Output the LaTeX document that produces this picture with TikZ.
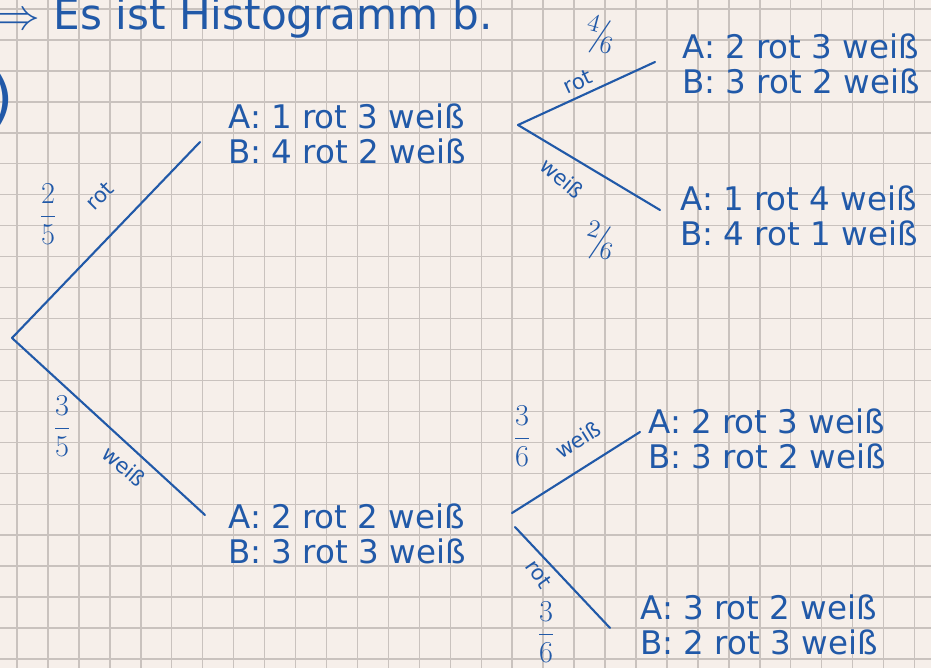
\documentclass[tikz,border=0pt]{standalone}
\usepackage{fontspec}
\setmainfont{DejaVu Sans}
\usetikzlibrary{positioning}
\definecolor{ink}{HTML}{2159A8}
\definecolor{paper}{HTML}{F6EFEA}
\definecolor{gridline}{HTML}{C9C2BE}
\tikzset{
  leaf/.style={text=ink, align=left, anchor=west, inner sep=0pt, font=\fontsize{18.5}{20}\selectfont},
  branch/.style={draw=ink, line width=1.2pt, line cap=round},
  prob/.style={text=ink, inner sep=0pt, font=\fontsize{16}{18}\selectfont},
  slashprob/.style={text=ink, inner sep=0pt, font=\fontsize{20}{20}\selectfont},
  colour/.style={text=ink, inner sep=0pt, font=\fontsize{12}{12}\selectfont},
}

\begin{document}
\begin{tikzpicture}[x=0.02cm, y=-0.02cm]
    % paper and squares
    \fill[paper] (0,0) rectangle (931,668);
    \useasboundingbox (0,0) rectangle (931,668);
    \foreach \gx in {0,...,29}
        \draw[gridline, line width=0.8pt] ({17+30.95*\gx},0) -- ({17+30.95*\gx},668);
    \foreach \gy in {-1,...,20}
        \draw[gridline, line width=0.8pt] (0,{40+30.95*\gy}) -- (931,{40+30.95*\gy});

    % heading
    \node[text=ink, anchor=base west, inner sep=0pt, font=\fontsize{24}{24}\selectfont] (title) at (-4,30) {$\Rightarrow$ Es ist Histogramm b.};
    \node[text=ink, inner sep=0pt, font=\fontsize{34}{34}\selectfont] (paren) at (2,100) {)};

    % first level
    \coordinate (root) at (12,338);
    \node[leaf] (rot) at (228,134) {A: 1 rot 3 weiß\\B: 4 rot 2 weiß};
    \node[leaf] (weiss) at (228,534) {A: 2 rot 2 weiß\\B: 3 rot 3 weiß};
    \coordinate (rotend) at (200,142);
    \coordinate (weissend) at (205,515);
    \draw[branch] (root) -- (rotend);
    \draw[branch] (root) -- (weissend);
    \node[prob] (p25) at (48,214) {$\displaystyle\frac{2}{5}$};
    \node[colour, rotate=45] (c25) at (100,196) {rot};
    \node[prob] (p35) at (62,426) {$\displaystyle\frac{3}{5}$};
    \node[colour, rotate=-40] (c35) at (124,466) {weiß};

    % second level, after rot
    \coordinate (s1) at (518,125);
    \coordinate (s1up) at (655,62);
    \coordinate (s1down) at (660,210);
    \draw[branch] (s1) -- (s1up);
    \draw[branch] (s1) -- (s1down);
    \node[leaf] (rr) at (682,64) {A: 2 rot 3 weiß\\B: 3 rot 2 weiß};
    \node[leaf] (rw) at (680,216) {A: 1 rot 4 weiß\\B: 4 rot 1 weiß};
    \node[slashprob, rotate=-15] (p46) at (600,36) {$^4\!/\!_6$};
    \node[colour, rotate=25] (c46) at (578,82) {rot};
    \node[colour, rotate=-40] (c26) at (562,178) {weiß};
    \node[slashprob, rotate=-15] (p26) at (600,242) {$^2\!/\!_6$};

    % second level, after weiß
    \coordinate (s2) at (512,513);
    \coordinate (s2b) at (515,527);
    \coordinate (s2up) at (640,432);
    \coordinate (s2down) at (610,628);
    \draw[branch] (s2) -- (s2up);
    \draw[branch] (s2b) -- (s2down);
    \node[leaf] (wr) at (648,439) {A: 2 rot 3 weiß\\B: 3 rot 2 weiß};
    \node[leaf] (ww) at (640,625) {A: 3 rot 2 weiß\\B: 2 rot 3 weiß};
    \node[prob] (p36a) at (522,436) {$\displaystyle\frac{3}{6}$};
    \node[colour, rotate=32] (c36a) at (578,440) {weiß};
    \node[colour, rotate=-55] (c36b) at (539,574) {rot};
    \node[prob] (p36b) at (546,632) {$\displaystyle\frac{3}{6}$};
\end{tikzpicture}
\end{document}
